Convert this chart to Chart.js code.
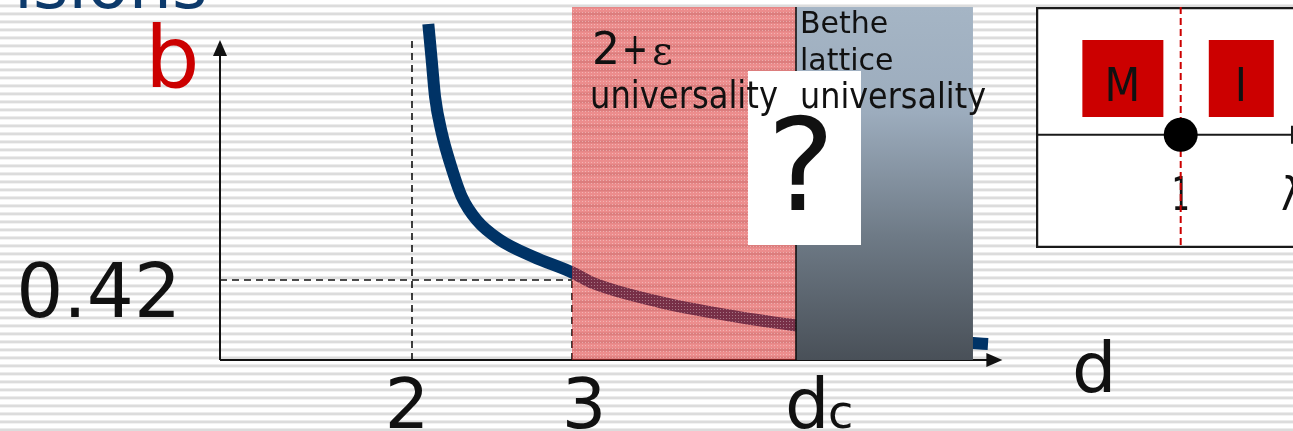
<!DOCTYPE html>
<html>
<head>
<meta charset="utf-8">
<script src="https://cdn.jsdelivr.net/npm/chart.js@4"></script>
<style>
  html, body { margin: 0; padding: 0; width: 1293px; height: 431px; overflow: hidden; }
  body {
    background: repeating-linear-gradient(to bottom, #ffffff 0px, #ffffff 4px, #ececec 4px, #ececec 5px, #dcdcdc 5px, #dcdcdc 7px, #f2f2f2 7px, #f2f2f2 8px);
    position: relative;
  }
  #main { position: absolute; left: 0; top: 0; }
  #inset { position: absolute; left: 1036px; top: 7px; }
</style>
</head>
<body>
<canvas id="main" width="1293" height="431"></canvas>
<canvas id="inset" width="300" height="241"></canvas>
<script>
// curve b(d)
let dValues = [2.102, 2.123, 2.144, 2.186, 2.238, 2.311, 2.404, 2.55, 2.758, 3.008, 3.131, 3.55, 3.969, 4.381, 4.9, 5.506, 5.6];
let bValues = [1.764, 1.575, 1.382, 1.192, 1.034, 0.857, 0.735, 0.63, 0.542, 0.457, 0.404, 0.304, 0.236, 0.184, 0.13, 0.089, 0.084];

// x ticks
let tickValues = [2, 3, 4.4];
let tickLabels = ["2", "3", "d"];
let markB = 0.42;
let markLabel = "0.42";

// regions along d
let epsRegion = [3, 4.4];
let betheRegion = [4.4, 5.506];

// inset
let insetLambda = [1];
let insetY = [0];
let insetLabels = ["M", "I"];

function dashed(ctx, x1, y1, x2, y2) {
    ctx.save();
    ctx.strokeStyle = "#111";
    ctx.lineWidth = 1.6;
    ctx.setLineDash([7, 5]);
    ctx.beginPath();
    ctx.moveTo(x1, y1);
    ctx.lineTo(x2, y2);
    ctx.stroke();
    ctx.restore();
}

function makePinkPattern() {
    let c = document.createElement("canvas");
    c.width = 3; c.height = 3;
    let g = c.getContext("2d");
    g.fillStyle = "rgba(220,45,45,0.54)";
    g.fillRect(0, 0, 3, 3);
    g.fillStyle = "rgba(255,255,255,0.35)";
    g.fillRect(0, 0, 1, 1);
    return c;
}

const mainPlugin = {
    id: "mainDecor",
    beforeDatasetsDraw(chart) {
        let ctx = chart.ctx;
        let x = chart.scales.x, y = chart.scales.y;
        let x0 = x.getPixelForValue(0.8);
        let y0 = y.getPixelForValue(0);

        // guide lines
        dashed(ctx, x.getPixelForValue(2), y0, x.getPixelForValue(2), y.getPixelForValue(1.68));
        dashed(ctx, x.getPixelForValue(3), y0, x.getPixelForValue(3), y.getPixelForValue(markB));
        dashed(ctx, x0, y.getPixelForValue(markB), x.getPixelForValue(3), y.getPixelForValue(markB));

        // axes with arrows
        ctx.save();
        ctx.strokeStyle = "#111";
        ctx.fillStyle = "#111";
        ctx.lineWidth = 2;
        let yTop = y.getPixelForValue(1.68);
        let xEnd = x.getPixelForValue(5.69);
        ctx.beginPath();
        ctx.moveTo(x0, y0);
        ctx.lineTo(x0, yTop + 14);
        ctx.moveTo(x0, y0);
        ctx.lineTo(xEnd - 14, y0);
        ctx.stroke();
        ctx.beginPath();
        ctx.moveTo(x0, yTop);
        ctx.lineTo(x0 - 7, yTop + 16);
        ctx.lineTo(x0 + 7, yTop + 16);
        ctx.closePath();
        ctx.fill();
        ctx.beginPath();
        ctx.moveTo(xEnd, y0);
        ctx.lineTo(xEnd - 16, y0 - 7);
        ctx.lineTo(xEnd - 16, y0 + 7);
        ctx.closePath();
        ctx.fill();
        ctx.restore();
    },
    afterDatasetsDraw(chart) {
        let ctx = chart.ctx;
        let x = chart.scales.x, y = chart.scales.y;
        let area = chart.chartArea;
        let y0 = y.getPixelForValue(0);

        // 2+eps region (semi-transparent over the curve)
        let px1 = x.getPixelForValue(epsRegion[0]);
        let px2 = x.getPixelForValue(epsRegion[1]);
        ctx.save();
        ctx.fillStyle = ctx.createPattern(makePinkPattern(), "repeat");
        ctx.fillRect(px1, area.top, px2 - px1, y0 - area.top);
        ctx.restore();

        // Bethe lattice region
        let gx1 = x.getPixelForValue(betheRegion[0]);
        let gx2 = x.getPixelForValue(betheRegion[1]);
        ctx.save();
        let grad = ctx.createLinearGradient(0, area.top, 0, y0);
        grad.addColorStop(0, "#a5b5c5");
        grad.addColorStop(0.3, "#9cacbd");
        grad.addColorStop(0.65, "#6e7a86");
        grad.addColorStop(1, "#495058");
        ctx.fillStyle = grad;
        ctx.fillRect(gx1, area.top, gx2 - gx1, y0 - area.top);
        ctx.strokeStyle = "#111";
        ctx.lineWidth = 1.6;
        ctx.beginPath();
        ctx.moveTo(gx1, area.top);
        ctx.lineTo(gx1, y0);
        ctx.stroke();
        ctx.restore();

        // white "?" box
        ctx.save();
        ctx.fillStyle = "#ffffff";
        ctx.fillRect(748, 71, 113, 174);
        ctx.fillStyle = "#111";
        ctx.textAlign = "center";
        ctx.textBaseline = "alphabetic";
        ctx.font = "128px 'DejaVu Sans'";
        ctx.fillText("?", 801, 210, 70);

        // region texts
        ctx.textAlign = "left";
        ctx.font = "44px 'DejaVu Sans'";
        ctx.fillText("2", 592, 64, 28);
        ctx.fillText("+", 622, 64, 26);
        ctx.font = "40px 'DejaVu Serif'";
        ctx.fillText("ε", 652, 64, 26);
        ctx.font = "37px 'DejaVu Sans'";
        ctx.fillText("universality", 590, 108, 188);
        ctx.font = "30px 'DejaVu Sans'";
        ctx.fillText("Bethe", 800, 33, 93);
        ctx.fillText("lattice", 800, 70, 96);
        ctx.font = "35px 'DejaVu Sans'";
        ctx.fillText("universality", 800, 108, 186);

        // axis labels
        ctx.fillStyle = "#cc0000";
        ctx.font = "86px 'DejaVu Sans'";
        ctx.fillText("b", 145, 87);
        ctx.fillStyle = "#111";
        ctx.font = "74px 'DejaVu Sans'";
        ctx.textAlign = "right";
        ctx.fillText(markLabel, 181, y.getPixelForValue(markB) + 37);
        ctx.textAlign = "left";
        ctx.font = "70px 'DejaVu Sans'";
        ctx.fillText("d", 1072, 392);

        // tick labels
        ctx.font = "70px 'DejaVu Sans'";
        ctx.textAlign = "center";
        ctx.fillText(tickLabels[0], x.getPixelForValue(tickValues[0]) - 5, 428);
        ctx.fillText(tickLabels[1], x.getPixelForValue(tickValues[1]) + 12, 428);
        ctx.textAlign = "left";
        let dx = x.getPixelForValue(tickValues[2]) - 11;
        ctx.fillText(tickLabels[2], dx, 428);
        ctx.font = "46px 'DejaVu Sans'";
        ctx.fillText("c", dx + 43, 428);

        // cut-off title at top
        ctx.fillStyle = "#0d3a6b";
        ctx.font = "68px 'DejaVu Sans'";
        ctx.fillText("isions", 14, 8, 196);
        ctx.restore();
    }
};

new Chart(document.getElementById("main"), {
    type: "line",
    data: {
        datasets: [{
            data: dValues.map((d, i) => ({ x: d, y: bValues[i] })),
            borderColor: "#003366",
            borderWidth: 12,
            pointRadius: 0,
            cubicInterpolationMode: "monotone",
            fill: false
        }]
    },
    options: {
        responsive: false,
        animation: false,
        devicePixelRatio: 1,
        layout: { padding: { left: 220, right: 273, top: 7, bottom: 71 } },
        plugins: { legend: { display: false }, tooltip: { enabled: false } },
        scales: {
            x: { type: "linear", min: 0.8, max: 5.8, display: false },
            y: { type: "linear", min: 0, max: 1.853, display: false }
        }
    },
    plugins: [mainPlugin]
});

const insetPlugin = {
    id: "insetDecor",
    beforeDatasetsDraw(chart) {
        let ctx = chart.ctx;
        let x = chart.scales.x, y = chart.scales.y;
        let xl = x.getPixelForValue(insetLambda[0]);
        let yl = y.getPixelForValue(insetY[0]);
        ctx.save();
        ctx.fillStyle = "#ffffff";
        ctx.fillRect(0, 0, chart.width, chart.height);
        ctx.strokeStyle = "#1a1a1a";
        ctx.lineWidth = 2.5;
        ctx.strokeRect(1, 1, chart.width + 10, chart.height - 2);

        // lambda axis
        ctx.lineWidth = 2;
        ctx.beginPath();
        ctx.moveTo(0, yl);
        ctx.lineTo(chart.width, yl);
        ctx.stroke();
        ctx.fillStyle = "#1a1a1a";
        ctx.fillRect(255, yl - 9, 2, 18);

        // red boxes
        ctx.fillStyle = "#cc0000";
        ctx.fillRect(x.getPixelForValue(0.23), 33, 81, 77);
        ctx.fillRect(x.getPixelForValue(1.22), 33, 65, 77);
        ctx.fillStyle = "#111";
        ctx.font = "46px 'DejaVu Sans Condensed', 'DejaVu Sans'";
        ctx.textAlign = "center";
        ctx.fillText(insetLabels[0], x.getPixelForValue(0.23) + 40, 94);
        ctx.fillText(insetLabels[1], x.getPixelForValue(1.22) + 32, 94);

        // tick labels
        ctx.fillText("1", xl, 203, 18);
        ctx.textAlign = "left";
        ctx.fillText("λ", 245, 203);

        // red dashed line
        ctx.strokeStyle = "#cc0000";
        ctx.lineWidth = 2;
        ctx.setLineDash([7, 4]);
        ctx.beginPath();
        ctx.moveTo(xl, 0);
        ctx.lineTo(xl, chart.height);
        ctx.stroke();
        ctx.restore();
    }
};

new Chart(document.getElementById("inset"), {
    type: "scatter",
    data: {
        datasets: [{
            data: insetLambda.map((l, i) => ({ x: l, y: insetY[i] })),
            pointRadius: 17,
            pointBackgroundColor: "#000",
            pointBorderWidth: 0
        }]
    },
    options: {
        responsive: false,
        animation: false,
        devicePixelRatio: 1,
        layout: { padding: 0 },
        plugins: { legend: { display: false }, tooltip: { enabled: false } },
        scales: {
            x: { type: "linear", min: 0, max: 2.083, display: false },
            y: { type: "linear", min: -0.869, max: 1, display: false }
        }
    },
    plugins: [insetPlugin]
});
</script>
</body>
</html>
